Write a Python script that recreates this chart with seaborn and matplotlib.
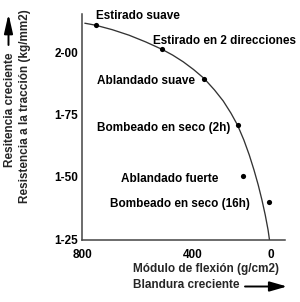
import matplotlib
matplotlib.use("Agg")
import matplotlib.pyplot as plt
from matplotlib.patches import FancyArrowPatch, ArrowStyle
import seaborn as sns
import pandas as pd

# ---------------- data ----------------
curve_modulo = [792, 746, 675, 604, 533, 463, 418, 373, 329, 284, 240, 203,
                170, 142, 115, 92, 72, 54, 38, 24, 12, 6]
curve_resistencia = [2.116, 2.108, 2.090, 2.068, 2.041, 2.011, 1.988, 1.961,
                     1.930, 1.894, 1.848, 1.804, 1.755, 1.707, 1.647, 1.587,
                     1.527, 1.467, 1.406, 1.346, 1.286, 1.246]

tratamientos = ["Estirado suave", "Estirado en 2 direcciones", "Ablandado suave",
                "Bombeado en seco (2h)", "Ablandado fuerte", "Bombeado en seco (16h)"]
modulo = [746, 463, 284, 142, 118, 7]
resistencia = [2.108, 2.011, 1.894, 1.707, 1.503, 1.397]

x_ticks = [800, 332, 0]
x_tick_labels = ["800", "400", "0"]
y_ticks = [1.25, 1.50, 1.75, 2.00]
y_tick_labels = ["1-25", "1-50", "1-75", "2-00"]

x_label = "Módulo de flexión (g/cm2)"
x_arrow_label = "Blandura creciente"
y_label = "Resistencia a la tracción (kg/mm2)"
y_arrow_label = "Resitencia creciente"

# ---------------- layout (pixels) ----------------
W, H = 300, 302
label_px = [(96, 19), (152.7, 44), (96.7, 84.5), (96.7, 131), (120.7, 182), (110, 207)]


def fx(x):
    return x / W


def fy(y):
    return 1 - y / H


sns.set_theme(style="white")
plt.rcParams["font.family"] = ["Liberation Sans", "DejaVu Sans"]
plt.rcParams["font.weight"] = "bold"

fig = plt.figure(figsize=(W / 100, H / 100), dpi=100)
fig.patch.set_facecolor("white")
ax = fig.add_axes([fx(82), fy(240), 203 / W, 226 / H])
ax.set_facecolor("white")

curve_df = pd.DataFrame({"modulo": curve_modulo, "resistencia": curve_resistencia})
pts_df = pd.DataFrame({"modulo": modulo, "resistencia": resistencia, "tratamiento": tratamientos})

sns.lineplot(data=curve_df, x="modulo", y="resistencia", sort=False,
             color="#333333", linewidth=0.95, ax=ax,
             solid_joinstyle="round", solid_capstyle="round")
sns.scatterplot(data=pts_df, x="modulo", y="resistencia", color="black",
                s=14, linewidth=0, ax=ax, zorder=3)

ax.set_xlim(804, -60)
ax.set_ylim(1.246, 2.153)
ax.set_xlabel("")
ax.set_ylabel("")
ax.set_xticks(x_ticks)
ax.set_xticklabels(x_tick_labels, fontsize=8.5, fontweight="bold")
ax.set_yticks(y_ticks)
ax.set_yticklabels(y_tick_labels, fontsize=8.5, fontweight="bold")
ax.tick_params(axis="x", length=0, pad=6.3, colors="black")
ax.tick_params(axis="y", length=0, pad=2.9, colors="black")
for s in ["top", "right"]:
    ax.spines[s].set_visible(False)
for s in ["left", "bottom"]:
    ax.spines[s].set_color("#444444")
    ax.spines[s].set_linewidth(1.1)
ax.grid(False)

for name, (lx, ly) in zip(tratamientos, label_px):
    fig.text(fx(lx), fy(ly), name, ha="left", va="baseline",
             fontsize=8.5, fontweight="bold", color="black")

fig.text(fx(132.7), fy(271.7), x_label, ha="left", va="baseline",
         fontsize=8.5, fontweight="bold")
fig.text(fx(132.7), fy(287.7), x_arrow_label, ha="left", va="baseline",
         fontsize=8.5, fontweight="bold")
fig.text(fx(25), fy(106.5), y_label, rotation=90, ha="center", va="center",
         fontsize=8.5, fontweight="bold")
fig.text(fx(10.5), fy(109.5), y_arrow_label, rotation=90, ha="center", va="center",
         fontsize=8.5, fontweight="bold")

up = FancyArrowPatch((fx(8.5), fy(45)), (fx(8.5), fy(14)), transform=fig.transFigure,
                     arrowstyle=ArrowStyle("-|>", head_length=11.5, head_width=2.6),
                     mutation_scale=1, lw=1.4, color="black", shrinkA=0, shrinkB=0)
right = FancyArrowPatch((fx(245), fy(286.5)), (fx(287), fy(286.5)), transform=fig.transFigure,
                        arrowstyle=ArrowStyle("-|>", head_length=10.5, head_width=3.0),
                        mutation_scale=1, lw=1.4, color="black", shrinkA=0, shrinkB=0)
fig.patches.extend([up, right])

fig.savefig("out.png", dpi=100, facecolor="white")
